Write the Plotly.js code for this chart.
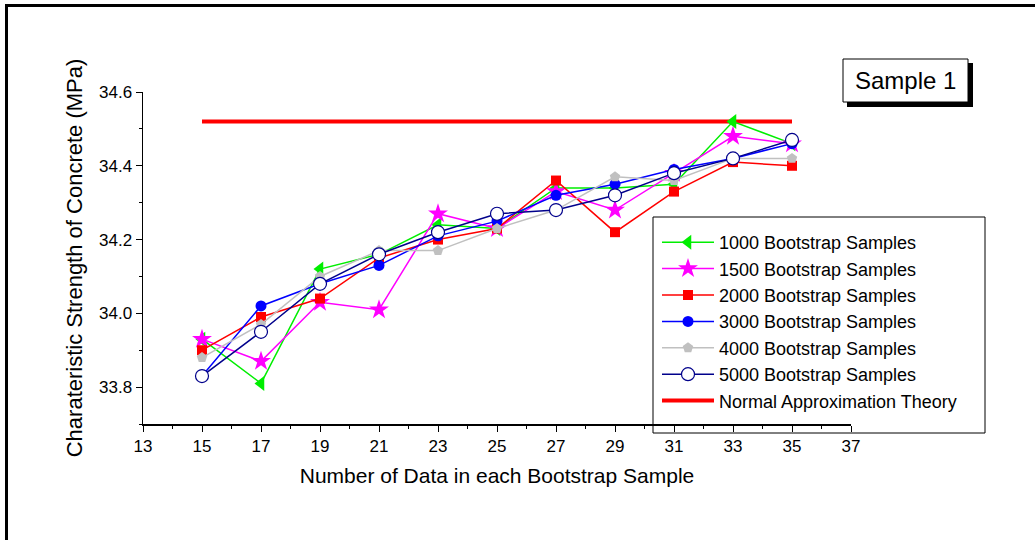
<!DOCTYPE html>
<html>
<head>
<meta charset="utf-8">
<script src="https://cdn.plot.ly/plotly-3.0.1.min.js"></script>
<style>html,body{margin:0;padding:0;background:#fff}#chart{width:1035px;height:540px}</style>
</head>
<body>
<div id="chart"></div>
<script>
const sizes = [15, 17, 19, 21, 23, 25, 27, 29, 31, 33, 35];
const s1000 = [33.93, 33.81, 34.12, 34.16, 34.24, 34.23, 34.34, 34.34, 34.35, 34.52, 34.46];
const s1500 = [33.93, 33.87, 34.03, 34.01, 34.27, 34.23, 34.33, 34.28, 34.38, 34.48, 34.46];
const s2000 = [33.90, 33.99, 34.04, 34.15, 34.20, 34.23, 34.36, 34.22, 34.33, 34.41, 34.40];
const s3000 = [33.83, 34.02, 34.08, 34.13, 34.21, 34.25, 34.32, 34.35, 34.39, 34.42, 34.46];
const s4000 = [33.88, 33.97, 34.10, 34.17, 34.17, 34.23, 34.28, 34.37, 34.36, 34.42, 34.42];
const s5000 = [33.83, 33.95, 34.08, 34.16, 34.22, 34.27, 34.28, 34.32, 34.38, 34.42, 34.47];
const normalX = [15, 35];
const normalY = [34.52, 34.52];
const seriesNames = ["1000 Bootstrap Samples", "1500 Bootstrap Samples", "2000 Bootstrap Samples",
  "3000 Bootstrap Samples", "4000 Bootstrap Samples", "5000 Bootstrap Samples", "Normal Approximation Theory"];
const xTitle = "Number of Data in each Bootstrap Sample";
const yTitle = "Charateristic Strength of Concrete (MPa)";
const boxLabel = "Sample 1";

// plot area pixel geometry
const L = 143, R = 851, T = 92, B = 424, W = 1035, H = 540;
const px = x => (x - L) / (R - L);
const py = y => (B - y) / (B - T);

const FONT = "Liberation Sans, Arial, sans-serif";

function series(y, name, color, symbol, size, rank) {
  return {
    x: sizes, y: y, name: name, type: "scatter", mode: "lines+markers",
    line: {color: color, width: 1.5},
    marker: {symbol: symbol, size: size, color: color},
    legendrank: rank
  };
}

const traces = [
  {x: normalX, y: normalY, name: seriesNames[6], type: "scatter", mode: "lines",
   line: {color: "#ff0000", width: 4}, legendrank: 7},
  series(s1000, seriesNames[0], "#00ee00", "triangle-left", 13, 1),
  series(s1500, seriesNames[1], "#ff00ff", "star", 15, 2),
  series(s2000, seriesNames[2], "#ff0000", "square", 10, 3),
  series(s3000, seriesNames[3], "#0000ff", "circle", 11, 4),
  series(s4000, seriesNames[4], "#c0c0c0", "pentagon", 11, 5),
  {x: sizes, y: s5000, name: seriesNames[5], type: "scatter", mode: "lines+markers",
   line: {color: "#00008b", width: 1.5},
   marker: {symbol: "circle", size: 13, color: "#ffffff", line: {color: "#00008b", width: 1.2}},
   legendrank: 6}
];

const layout = {
  width: W, height: H,
  margin: {l: L, r: W - R, t: T, b: H - B},
  paper_bgcolor: "#fff", plot_bgcolor: "#fff",
  font: {family: FONT, color: "#000"},
  showlegend: true,
  legend: {
    x: px(657), y: py(224), xanchor: "left", yanchor: "top",
    bgcolor: "rgba(0,0,0,0)", borderwidth: 0,
    font: {family: FONT, size: 18, color: "#000"},
    itemwidth: 52, tracegroupgap: 0
  },
  xaxis: {
    range: [13, 37], tick0: 13, dtick: 2, showgrid: false, zeroline: false,
    showline: true, linecolor: "#000", linewidth: 1.5, mirror: false,
    ticks: "outside", ticklen: 6, tickwidth: 1, tickcolor: "#000",
    minor: {dtick: 1, ticks: "outside", ticklen: 3, tickcolor: "#000", showgrid: false},
    tickfont: {family: FONT, size: 17},
    title: {text: xTitle, font: {family: FONT, size: 21}, standoff: 13}
  },
  yaxis: {
    range: [33.7, 34.6], tick0: 33.8, dtick: 0.2, tickformat: ".1f",
    showgrid: false, zeroline: false,
    showline: true, linecolor: "#000", linewidth: 1.5,
    ticks: "outside", ticklen: 6, tickwidth: 1, tickcolor: "#000",
    minor: {dtick: 0.1, ticks: "outside", ticklen: 3, tickcolor: "#000", showgrid: false},
    tickfont: {family: FONT, size: 17},
    title: {text: yTitle, font: {family: FONT, size: 22}, standoff: 10}
  },
  shapes: [
    // outer frame
    {type: "line", xref: "paper", yref: "paper", x0: px(6.5), x1: px(6.5), y0: py(5.5), y1: py(545), line: {color: "#000", width: 3}},
    {type: "line", xref: "paper", yref: "paper", x0: px(5), x1: px(1040), y0: py(5.5), y1: py(5.5), line: {color: "#000", width: 3}},
    // legend frame
    {type: "rect", xref: "paper", yref: "paper", x0: px(653), x1: px(985), y0: py(217), y1: py(433),
     line: {color: "#000", width: 1}, fillcolor: "rgba(255,255,255,0)"},
    // sample box shadow + box
    {type: "rect", xref: "paper", yref: "paper", x0: px(847), x1: px(973), y0: py(63), y1: py(107),
     line: {width: 0}, fillcolor: "#000"},
    {type: "rect", xref: "paper", yref: "paper", x0: px(843), x1: px(968), y0: py(59), y1: py(102),
     line: {color: "#000", width: 1}, fillcolor: "#fff"}
  ],
  annotations: [
    {text: boxLabel, xref: "paper", yref: "paper", x: px(905.5), y: py(80.5),
     xanchor: "center", yanchor: "middle", showarrow: false,
     font: {family: FONT, size: 24, color: "#000"}}
  ]
};

Plotly.newPlot("chart", traces, layout, {displayModeBar: false, staticPlot: true});
</script>
</body>
</html>
